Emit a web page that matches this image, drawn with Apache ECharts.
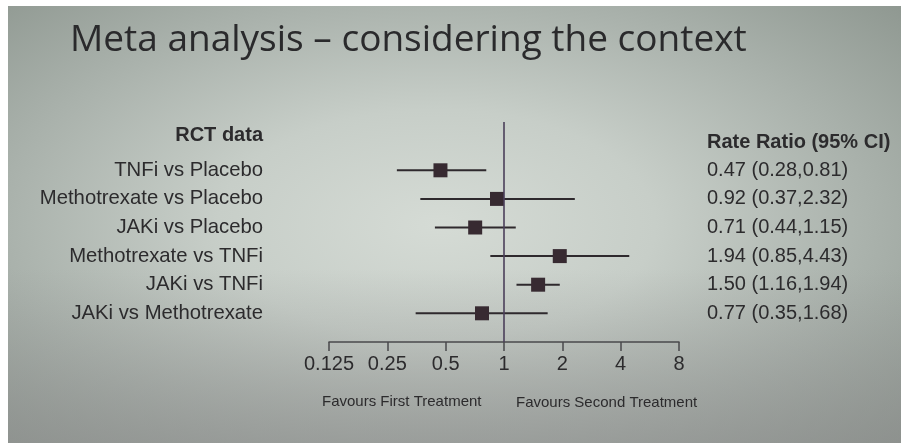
<!DOCTYPE html>
<html><head><meta charset="utf-8">
<script src="https://cdn.jsdelivr.net/npm/echarts@6/dist/echarts.min.js"></script>
<style>
html,body{margin:0;padding:0;background:#fff;width:901px;height:443px;overflow:hidden;}
#bg{position:absolute;left:8px;top:6px;width:893px;height:437px;
background:
 linear-gradient(180deg, rgba(140,140,140,0) 60%, rgba(140,140,140,0.55) 100%),
 radial-gradient(ellipse 70% 75% at 48% 50%, #d5dbd5 0%, #c7cec8 35%, #a9b1ab 70%, #8f9891 100%);}
#c{position:absolute;left:0;top:0;width:901px;height:443px;}
</style></head>
<body><div id="bg"></div><div id="c"></div>
<script>
// ---- data ----
const comparisons = ['TNFi vs Placebo','Methotrexate vs Placebo','JAKi vs Placebo','Methotrexate vs TNFi','JAKi vs TNFi','JAKi vs Methotrexate'];
const estimates = [0.47, 0.92, 0.71, 1.94, 1.50, 0.77];
const lowerCI = [0.28, 0.37, 0.44, 0.85, 1.16, 0.35];
const upperCI = [0.81, 2.32, 1.15, 4.43, 1.94, 1.68];
const ciText = ['0.47 (0.28,0.81)','0.92 (0.37,2.32)','0.71 (0.44,1.15)','1.94 (0.85,4.43)','1.50 (1.16,1.94)','0.77 (0.35,1.68)'];
const tickValues = [0.125, 0.25, 0.5, 1, 2, 4, 8];
const tickLabels = ['0.125','0.25','0.5','1','2','4','8'];
const refValue = 1;

const FONT = '"Liberation Sans", Arial, Helvetica, sans-serif';
const TXT = '#2c2b2d';
const chart = echarts.init(document.getElementById('c'), null, {renderer:'canvas'});

function fmtTick(v){
  for (let k=0;k<tickValues.length;k++){
    if (Math.abs(Math.log2(v)-Math.log2(tickValues[k]))<1e-6) return tickLabels[k];
  }
  return '';
}

chart.setOption({
  backgroundColor: 'transparent',
  animation: false,
  title: [
    {text:'Meta analysis – considering the context', left:70, top:22, padding:0,
     textStyle:{fontFamily:'"Open Sans", sans-serif', fontSize:37, fontWeight:'normal', color:'#2a2a2c'}},
    {text:'RCT data', right:638, top:125, padding:0,
     textStyle:{fontFamily:FONT, fontSize:20, fontWeight:'bold', color:TXT}},
    {text:'Rate Ratio (95% CI)', left:707, top:132, padding:0,
     textStyle:{fontFamily:FONT, fontSize:20, fontWeight:'bold', color:TXT}},
    {text:'Favours First Treatment', left:322, top:394, padding:0,
     textStyle:{fontFamily:FONT, fontSize:15, fontWeight:'normal', color:TXT}},
    {text:'Favours Second Treatment', left:516, top:395, padding:0,
     textStyle:{fontFamily:FONT, fontSize:15, fontWeight:'normal', color:TXT}}
  ],
  grid: [
    {left:329, width:350, top:122, height:220},
    {left:329, width:350, top:156, height:171.6}
  ],
  xAxis: [
    {gridIndex:0, type:'log', logBase:2, min:0.125, max:8, interval:1,
     axisLine:{show:true, lineStyle:{color:'#4a4a4c', width:1.5}},
     axisTick:{show:true, inside:false, length:9, lineStyle:{color:'#4a4a4c', width:1.5}},
     axisLabel:{show:true, margin:12, fontSize:20, fontFamily:FONT, color:TXT, formatter:fmtTick},
     splitLine:{show:false}, minorTick:{show:false}},
    {gridIndex:1, type:'log', logBase:2, min:0.125, max:8, show:false}
  ],
  yAxis: [
    {gridIndex:0, type:'value', min:0, max:1, show:false},
    {gridIndex:1, type:'category', inverse:true, data:comparisons, position:'left',
     axisLine:{show:false}, axisTick:{show:false}, splitLine:{show:false},
     axisLabel:{margin:66, fontSize:20.3, fontFamily:FONT, color:TXT}},
    {gridIndex:1, type:'category', inverse:true, data:ciText, position:'right',
     axisLine:{show:false}, axisTick:{show:false}, splitLine:{show:false},
     axisLabel:{margin:28, fontSize:20, fontFamily:FONT, color:TXT, padding:[6,0,0,0]}}
  ],
  series: [
    {type:'line', xAxisIndex:0, yAxisIndex:0, data:[[refValue,0],[refValue,1]],
     showSymbol:false, silent:true, lineStyle:{color:'#4b3f5a', width:1.6}},
    {type:'custom', xAxisIndex:1, yAxisIndex:1,
     data: comparisons.map((c,i)=>[lowerCI[i], upperCI[i], i]),
     renderItem: function(params, api){
       const a = api.coord([api.value(0), api.value(2)]);
       const b = api.coord([api.value(1), api.value(2)]);
       return {type:'line', shape:{x1:a[0], y1:a[1], x2:b[0], y2:b[1]},
               style:{stroke:'#2e292d', lineWidth:2}};
     }},
    {type:'scatter', xAxisIndex:1, yAxisIndex:1, symbol:'rect', symbolSize:14,
     data: comparisons.map((c,i)=>[estimates[i], i]),
     itemStyle:{color:'#372a31', opacity:1}}
  ]
});
</script>
</body></html>
